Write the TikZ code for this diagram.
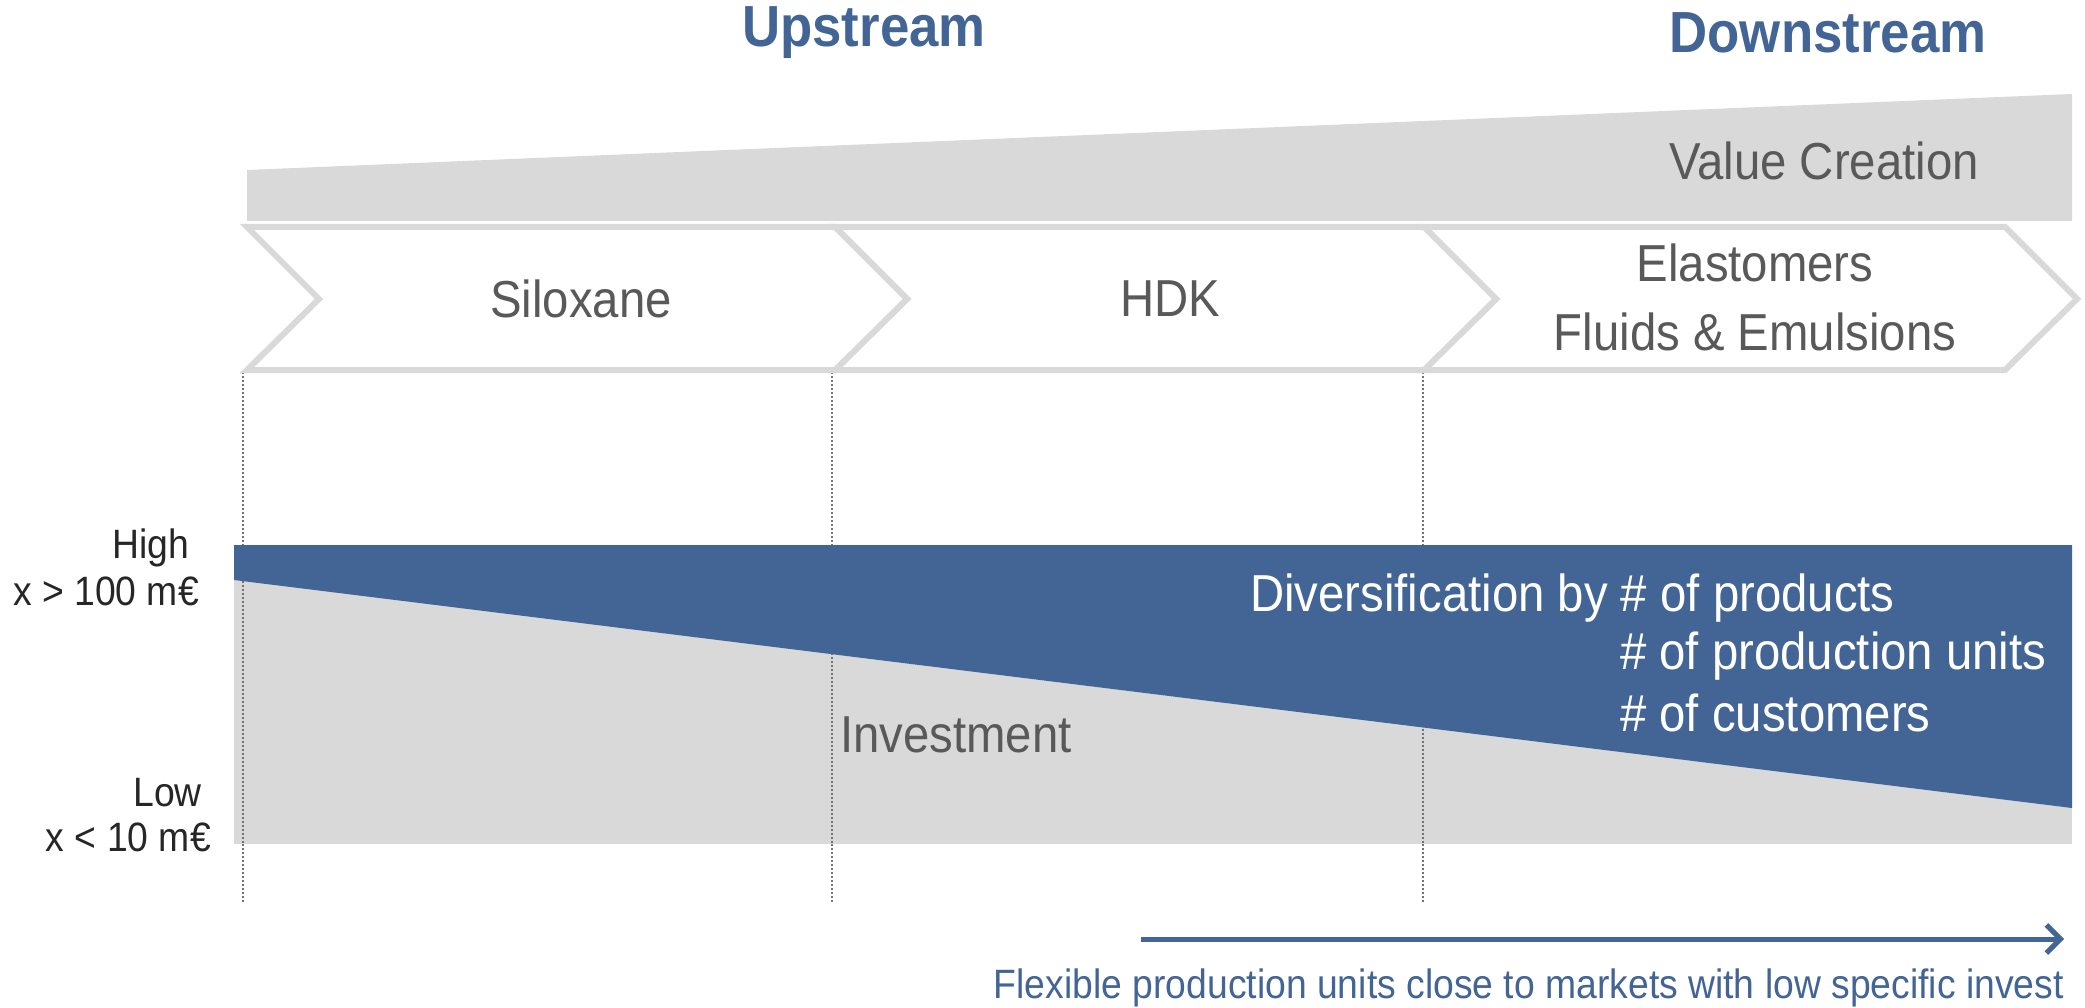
\documentclass[tikz,border=0pt]{standalone}
\usepackage{fontspec}
\setmainfont{Liberation Sans}[FakeStretch=0.91]
\usetikzlibrary{arrows.meta}
\definecolor{cblue}{RGB}{67,101,150}
\definecolor{cgray}{RGB}{217,217,217}
\definecolor{ctext}{RGB}{89,89,89}
\definecolor{cdark}{RGB}{38,38,38}
\definecolor{cdot}{RGB}{115,115,115}
\tikzset{
  head/.style={font=\fontsize{58}{66}\selectfont\bfseries, text=cblue, inner sep=0pt},
  big/.style={font=\fontsize{52}{60}\selectfont, text=ctext, inner sep=0pt},
  white/.style={font=\fontsize{52}{60}\selectfont, text=white, inner sep=0pt},
  axis/.style={font=\fontsize{41}{48}\selectfont, text=cdark, inner sep=0pt},
  note/.style={font=\fontsize{41}{48}\selectfont, text=cblue, inner sep=0pt},
  chev/.style={draw=cgray, fill=white, line width=6pt, line join=miter},
  guide/.style={draw=cdot, line width=2pt, dash pattern=on 2pt off 2pt},
}
\begin{document}
\begin{tikzpicture}[x=1pt,y=-1pt]
\useasboundingbox (0,0) rectangle (2085,1008);
% titles
\node[head] (up) at (864,33) {Upstream};
\node[head] (down) at (1828,33) {Downstream};
% value creation wedge
\fill[cgray] (247,170) -- (2072,94) -- (2072,221) -- (247,221) -- cycle;
\node[big, anchor=east] (value) at (1979,161) {Value Creation};
% guide lines
\draw[guide] (243,372) -- (243,902);
\draw[guide] (832,372) -- (832,902);
\draw[guide] (1423,372) -- (1423,902);
% chevrons
\draw[chev] (1424,227) -- (2005,227) -- (2077,299) -- (2005,370) -- (1424,370) -- (1496,299) -- cycle;
\draw[chev] (835,227) -- (1424,227) -- (1496,299) -- (1424,370) -- (835,370) -- (907,299) -- cycle;
\draw[chev] (247,227) -- (835,227) -- (907,299) -- (835,370) -- (247,370) -- (319,299) -- cycle;
\node[big] (silox) at (581,299) {Siloxane};
\node[big] (hdk) at (1170,299) {HDK};
\node[big] (elast) at (1755,263) {Elastomers};
\node[big] (fluids) at (1755,332) {Fluids \& Emulsions};
% investment block
\fill[cgray] (234,545) rectangle (2072,844);
\draw[guide] (243,545) -- (243,844);
\draw[guide] (832,545) -- (832,844);
\draw[guide] (1423,545) -- (1423,844);
\fill[cblue] (234,545) -- (2072,545) -- (2072,808) -- (234,580) -- cycle;
\node[big, anchor=west] (invest) at (840,735) {Investment};
\node[white, anchor=west] (div1) at (1250,598) {Diversification by \# of products};
\node[white, anchor=west] (div2) at (1620,656) {\# of production units};
\node[white, anchor=west] (div3) at (1620,713) {\# of customers};
% axis labels
\node[axis, anchor=east] (high) at (189,548) {High};
\node[axis, anchor=east] (hv) at (199,591) {x > 100 m€};
\node[axis, anchor=east] (low) at (202,793) {Low};
\node[axis, anchor=east] (lv) at (211,837) {x < 10 m€};
% arrow
\coordinate (a0) at (1141,939);
\coordinate (a1) at (2064,939);
\draw[cblue, line width=5pt, -{Straight Barb[length=14pt,width=28pt,line width=5pt]}] (a0) -- (a1);
\node[note, anchor=east] (flex) at (2064,988) {Flexible production units close to markets with low specific invest};
\end{tikzpicture}
\end{document}
